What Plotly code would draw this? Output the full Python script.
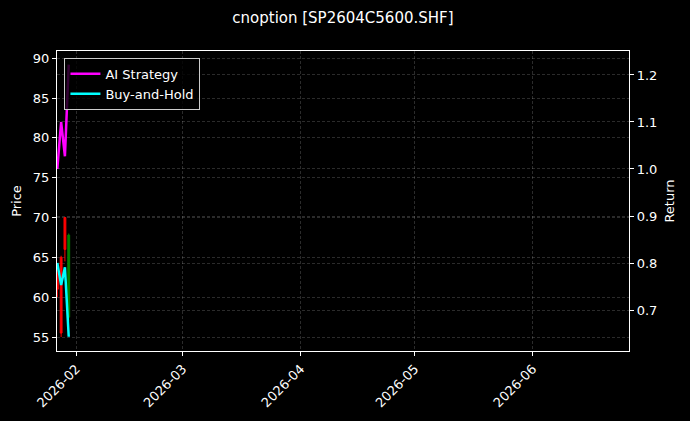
import plotly.graph_objects as go
from plotly.subplots import make_subplots

# daily bars
dates = ["2026-01-27", "2026-01-28", "2026-01-29", "2026-01-30"]
opens = [63.0, 65.0, 70.0, 57.5]
highs = [64.0, 65.2, 70.0, 68.0]
lows = [60.0, 55.0, 64.5, 57.0]
closes = [61.0, 55.5, 66.0, 67.8]

# cumulative return curves (right axis)
ai_strategy = [1.0, 1.10, 1.027, 1.222]
buy_hold = [0.80, 0.753, 0.791, 0.643]

month_ticks = ["2026-02-01", "2026-03-01", "2026-04-01", "2026-05-01", "2026-06-01"]
month_labels = ["2026-02", "2026-03", "2026-04", "2026-05", "2026-06"]
price_ticks = [55, 60, 65, 70, 75, 80, 85, 90]
return_ticks = [0.7, 0.8, 0.9, 1.0, 1.1, 1.2]

font = "DejaVu Sans"
grid = "rgba(255,255,255,0.17)"

fig = make_subplots(specs=[[{"secondary_y": True}]])

fig.add_trace(go.Candlestick(x=dates, open=opens, high=highs, low=lows, close=closes,
                             increasing=dict(line=dict(color="green", width=1), fillcolor="green"),
                             decreasing=dict(line=dict(color="red", width=1), fillcolor="red"),
                             whiskerwidth=0, showlegend=False),
              secondary_y=False)

fig.add_trace(go.Scatter(name="AI Strategy", x=dates, y=ai_strategy, mode="lines",
                         line=dict(color="magenta", width=2.5)), secondary_y=True)
fig.add_trace(go.Scatter(name="Buy-and-Hold", x=dates, y=buy_hold, mode="lines",
                         line=dict(color="cyan", width=2.5)), secondary_y=True)

axis_common = dict(showline=True, linecolor="white", linewidth=1.2,
                   ticks="outside", tickcolor="white", ticklen=4, tickwidth=1,
                   tickfont=dict(color="white", size=13, family=font),
                   showgrid=True, gridcolor=grid, griddash="3px,2px", gridwidth=0.7,
                   zeroline=False, automargin=False)

# secondary_y subplots leave room on the right by default; use the full width
fig.update_xaxes(type="date", domain=[0, 1], range=["2026-01-26 22:00", "2026-06-26 08:00"],
                 tickvals=month_ticks, ticktext=month_labels, tickangle=-45,
                 mirror=True, rangeslider_visible=False, **axis_common)
fig.update_yaxes(title=dict(text="Price", font=dict(color="white", size=13, family=font), standoff=8),
                 range=[53.25, 90.9], tickvals=price_ticks, mirror=False,
                 secondary_y=False, **axis_common)
fig.update_yaxes(title=dict(text="Return", font=dict(color="white", size=13, family=font), standoff=8),
                 range=[0.6128, 1.251], tickvals=return_ticks, tickformat=".1f",
                 secondary_y=True, **axis_common)

fig.update_layout(
    width=690, height=421, autosize=False,
    margin=dict(l=57, r=61, t=51, b=70, autoexpand=False),
    paper_bgcolor="black", plot_bgcolor="black",
    font=dict(family=font, color="white", size=13),
    title=dict(text="cnoption [SP2604C5600.SHF]", x=0.497, xanchor="center",
               y=0.957, yanchor="middle", font=dict(size=15, color="white", family=font)),
    legend=dict(x=0.013, y=0.977, xanchor="left", yanchor="top",
                bgcolor="rgba(0,0,0,0.8)", bordercolor="#cccccc", borderwidth=1,
                font=dict(size=13, color="white", family=font)),
)

# page has a default 8px body margin; drop it so the figure sits at the window origin
fig.write_html("out.html", config={"displayModeBar": False},
               post_script="document.body.style.margin='0';document.body.style.overflow='hidden';")
